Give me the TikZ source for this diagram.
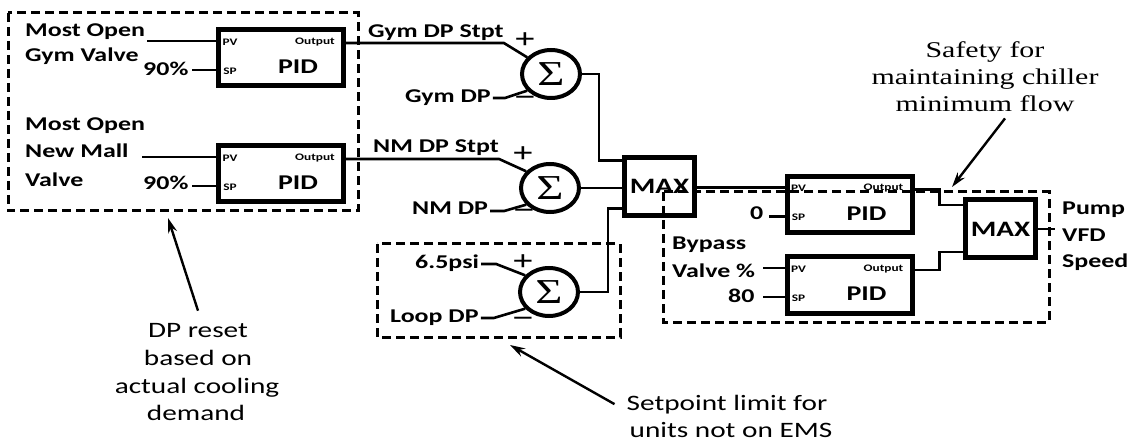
\documentclass[tikz,border=0pt]{standalone}
\usepackage{fontspec}
\setmainfont{Carlito}[FakeStretch=1.33]
\newfontfamily\serifst{Liberation Serif}[FakeStretch=1.33]
\usetikzlibrary{calc,shapes.geometric,arrows.meta}
\tikzset{
  lbl/.style={font=\bfseries\fontsize{19.5}{22}\selectfont, inner sep=0pt, anchor=base west},
  ann/.style={font=\fontsize{22}{26}\selectfont, inner sep=0pt, anchor=base},
  sfy/.style={font=\serifst\fontsize{22.5}{27}\selectfont, inner sep=0pt, anchor=base},
  tinylbl/.style={font=\bfseries\fontsize{10}{10}\selectfont, inner sep=0pt},
  pidtxt/.style={font=\bfseries\fontsize{21}{21}\selectfont, inner sep=0pt},
  pidbox/.style={draw, line width=5pt, minimum width=125pt, minimum height=56pt, inner sep=0pt},
  maxbox/.style={draw, line width=5pt, minimum width=70pt, minimum height=58pt, inner sep=0pt, font=\bfseries\fontsize{22}{22}\selectfont},
  sig/.style={draw, ellipse, line width=4pt, minimum width=58pt, minimum height=48pt, inner sep=0pt, font=\serifst\fontsize{35}{35}\selectfont},
  pm/.style={font=\serifst\bfseries\fontsize{28}{28}\selectfont, inner sep=0pt},
  conn/.style={line width=2.6pt},
  dbox/.style={line width=3pt, dash pattern=on 9pt off 5pt},
  arr/.style={line width=2.4pt, -{Stealth[length=15pt,width=9pt]}},
}
\newcommand\pidblk[3]{%
  \node[pidbox] (#1) at (#2,#3) {};
  \node[tinylbl] (#1pvl) at ($(#1)+(-51,-16)$) {PV};
  \node[tinylbl, anchor=east] (#1outl) at ($(#1)+(54,-16)$) {Output};
  \node[tinylbl] (#1spl) at ($(#1)+(-51,13)$) {SP};
  \node[pidtxt] (#1t) at ($(#1)+(17,9)$) {PID};
  \coordinate (#1pv) at ($(#1.west)+(0,-17)$);
  \coordinate (#1sp) at ($(#1.west)+(0,12)$);
  \coordinate (#1o) at ($(#1.east)+(0,-15)$);
}
\begin{document}
\begin{tikzpicture}[x=1pt,y=-1pt]
\useasboundingbox (0,0) rectangle (1140,446);
\fill[white] (0,0) rectangle (1140,446);

% left group
\pidblk{pa}{281}{58}
\pidblk{pb}{281}{174}
\node[lbl] (moa1) at (25,37) {Most Open};
\node[lbl] (moa2) at (25,62) {Gym Valve};
\node[lbl] (spa) at (143,76) {90\%};
\node[lbl] (mob1) at (25,131) {Most Open};
\node[lbl] (mob2) at (25,158) {New Mall};
\node[lbl] (mob3) at (25,187) {Valve};
\node[lbl] (spb) at (143,190) {90\%};
\draw[conn] (papv) -- ($(papv -| moa1.east)+(2,0)$);
\draw[conn] (pasp) -- ($(pasp -| spa.east)+(3,0)$);
\draw[conn] (pbpv) -- ($(pbpv -| mob2.east)+(13,0)$);
\draw[conn] (pbsp) -- ($(pbsp -| spb.east)+(3,0)$);
\draw[dbox] (8,13) rectangle (358,211);

% sums
\node[sig] (s1) at (551,74) {Σ};
\node[sig] (s2) at (550,188) {Σ};
\node[sig] (s3) at (549,292) {Σ};
\node[lbl] (gs) at (368,38) {Gym DP Stpt};
\node[lbl] (ns) at (373,153) {NM DP Stpt};
\node[lbl] (gd) at (405,103) {Gym DP};
\node[lbl] (nd) at (412,215) {NM DP};
\node[lbl] (ps) at (415,269) {6.5psi};
\node[lbl] (ld) at (390,322) {Loop DP};
\node[pm] (s1p) at (525,41) {+};
\node[pm] (s1m) at (525,101) {−};
\node[pm] (s2p) at (523,155) {+};
\node[pm] (s2m) at (524,214) {−};
\node[pm] (s3p) at (523,263) {+};
\node[pm] (s3m) at (523,322) {−};
\draw[conn] (pao) -- (pao -| gs.east) -- (s1.145);
\draw[conn] (pbo) -- (pbo -| ns.east) -- (s2.145);
\draw[conn] ($(gd.base east)+(2,-5)$) -- ++(12,0) -- (s1.215);
\draw[conn] ($(nd.base east)+(2,-4)$) -- ++(14,0) -- (s2.215);
\draw[conn] ($(ps.base east)+(2,-5)$) -- ++(15,0) -- (s3.145);
\draw[conn] ($(ld.base east)+(2,-4)$) -- ++(13,0) -- (s3.215);

% max 1
\node[maxbox] (m1) at (659.5,186.5) {MAX};
\draw[conn] (s1.east) -- ++(17,0) |- ($(m1.west)+(0,-26)$);
\draw[conn] (s2.east) -- (s2.east -| m1.west);
\draw[conn] (s3.east) -- ++(28,0) |- ($(m1.west)+(0,22)$);
\draw[dbox] (377,244) rectangle (620,337);

% right group
\pidblk{pc}{849.5}{204.5}
\pidblk{pd}{849.5}{285}
\node[maxbox] (m2) at (1000.5,229) {MAX};
\draw[conn] (m1.east |- pcpv) -- (pcpv);
\node[lbl] (zero) at (750,220) {0};
\draw[conn] (pcsp) -- ($(pcsp -| zero.east)+(5,0)$);
\node[lbl] (bp1) at (672,250) {Bypass};
\node[lbl] (bp2) at (672,277) {Valve \%};
\draw[conn] (pdpv) -- ($(pdpv -| bp2.east)+(8,0)$);
\node[lbl] (eighty) at (728,302) {80};
\draw[conn] (pdsp) -- ($(pdsp -| eighty.east)+(8,0)$);
\draw[conn] (pco) -- ++(25,0) |- ($(m2.west)+(0,-24)$);
\draw[conn] (pdo) -- ++(25,0) |- ($(m2.west)+(0,23)$);
\draw[conn] (m2.east) -- ++(17,0) coordinate (vfd);
\node[lbl] (pu1) at (1062,215) {Pump};
\node[lbl] (pu2) at (1062,242) {VFD};
\node[lbl] (pu3) at (1062,268) {Speed};
\draw[dbox] (663,192) rectangle (1049,322);

% annotations
\node[ann] (dp1) at (198,337) {DP reset};
\node[ann] (dp2) at (198,365) {based on};
\node[ann] (dp3) at (197,393) {actual cooling};
\node[ann] (dp4) at (196,420) {demand};
\coordinate (dptip) at (168,218);
\draw[arr] ($(dp1.north)+(0,-12)$) -- (dptip);

\node[ann] (st1) at (727,410) {Setpoint limit for};
\node[ann] (st2) at (731,437) {units not on EMS};
\coordinate (sttip) at (510,345);
\draw[arr] ($(st1.west)+(-12,0)$) -- (sttip);

\node[sfy] (sf1) at (985,58) {Safety for};
\node[sfy] (sf2) at (985,85) {maintaining chiller};
\node[sfy] (sf3) at (985,112) {minimum flow};
\coordinate (sftip) at (952,187);
\draw[arr] ($(sf3.south)+(20,6)$) -- (sftip);
\end{tikzpicture}
\end{document}
